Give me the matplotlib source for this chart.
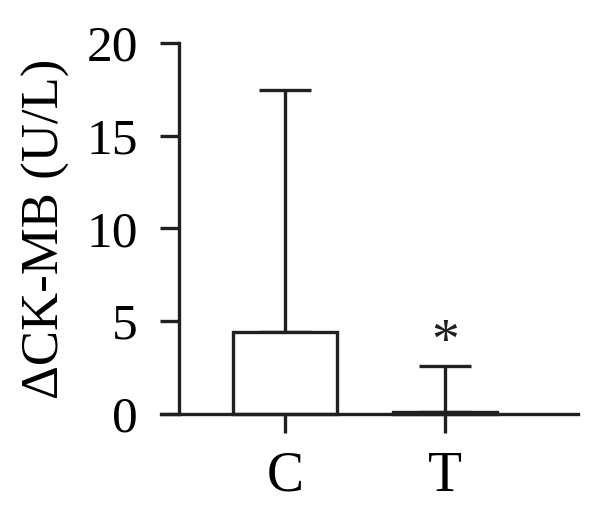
import matplotlib
matplotlib.use('Agg')
import matplotlib.pyplot as plt

# Data
groups = ['C', 'T']
means = [4.43, 0.1]
upper_err = [13.05, 2.48]
yticks = [0, 5, 10, 15, 20]

plt.rcParams['font.family'] = ['Liberation Serif', 'DejaVu Serif']

fig = plt.figure(figsize=(6, 5.15), dpi=100)
ax = fig.add_axes([0.268, 0.196, 0.695, 0.721])

lw = 2.4
ink = '#231f20'
x = list(range(len(groups)))
ax.bar(x, means, width=0.65, color='white', edgecolor=ink, linewidth=lw,
       clip_on=False, zorder=2)
ax.errorbar(x, means, yerr=[[0] * len(means), upper_err], fmt='none',
            ecolor=ink, elinewidth=lw, capsize=19, capthick=lw, zorder=1)

# significance marker
ax.text(x[1], means[1] + upper_err[1] + 1.2, '*', ha='center', va='center',
        fontsize=40, color=ink)

ax.set_xlim(-0.775, 1.831)
ax.set_ylim(0, 20)
ax.set_yticks(yticks)
ax.set_xticks(x)
ax.set_xticklabels(groups, fontsize=40)
ax.tick_params(axis='y', labelsize=37, length=13.5, width=lw, pad=16, color=ink)
ax.tick_params(axis='x', length=13.5, width=lw, pad=13, color=ink)

ax.spines['top'].set_visible(False)
ax.spines['right'].set_visible(False)
ax.spines['left'].set_position(('axes', 0.0432))
ax.spines['left'].set_bounds(0, 20)
for s in ['left', 'bottom']:
    ax.spines[s].set_linewidth(lw)
    ax.spines[s].set_color(ink)

ax.set_ylabel('ΔCK-MB (U/L)', fontsize=38, labelpad=12)

fig.savefig('out.png', dpi=100)
